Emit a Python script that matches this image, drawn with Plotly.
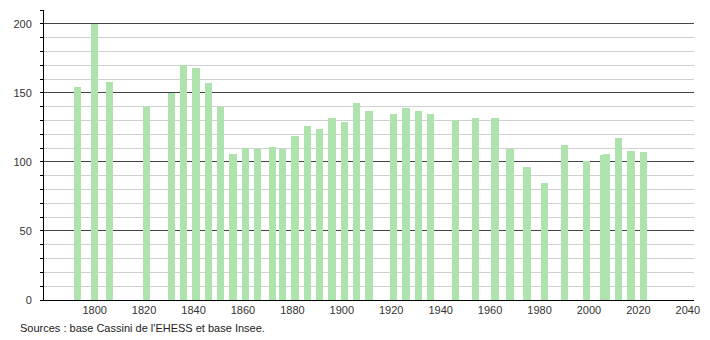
import plotly.graph_objects as go

years = [1793, 1800, 1806, 1821, 1831, 1836, 1841, 1846, 1851, 1856, 1861, 1866,
         1872, 1876, 1881, 1886, 1891, 1896, 1901, 1906, 1911, 1921, 1926, 1931,
         1936, 1946, 1954, 1962, 1968, 1975, 1982, 1990, 1999, 2006, 2007, 2012,
         2017, 2022]
population = [154, 200, 158, 140, 150, 170, 168, 157, 140, 106, 110, 109,
              111, 109, 119, 126, 124, 132, 129, 143, 137, 135, 139, 137,
              135, 130, 132, 132, 109, 96, 85, 112, 101, 105, 106, 117,
              108, 107]
x_ticks = [1800, 1820, 1840, 1860, 1880, 1900, 1920, 1940, 1960, 1980, 2000, 2020, 2040]
y_ticks = [0, 50, 100, 150, 200]
source_text = "Sources : base Cassini de l'EHESS et base Insee."

fig = go.Figure()
fig.add_trace(go.Bar(
    x=years, y=population, width=3,
    marker=dict(color="rgb(174,227,174)", line=dict(width=0)),
    hoverinfo="x+y",
))

font = dict(family="Liberation Sans, Arial, sans-serif", size=11, color="#333")

fig.update_layout(
    width=710, height=340,
    margin=dict(l=44, r=10, t=10, b=40),
    paper_bgcolor="white", plot_bgcolor="white",
    showlegend=False, bargap=0,
    font=font,
    xaxis=dict(
        range=[1779.5, 2042.5], tickmode="array", tickvals=x_ticks,
        showgrid=False, zeroline=False, showline=True, linecolor="black",
        linewidth=1, ticks="", tickfont=font,
    ),
    yaxis=dict(
        range=[0, 210], tickmode="array", tickvals=y_ticks,
        showgrid=True, gridcolor="#444", gridwidth=1, zeroline=False,
        showline=True, linecolor="black", linewidth=1,
        ticks="outside", ticklen=3, tickcolor="black", tickfont=font,
        ticklabelstandoff=6,
        minor=dict(dtick=10, tick0=0, showgrid=True, gridcolor="#cfcfcf",
                   gridwidth=1, ticks="outside", ticklen=3, tickcolor="black"),
        layer="below traces",
    ),
)
fig.add_annotation(
    text=source_text, xref="paper", yref="paper",
    x=(18 - 44) / 656, y=-28 / 290, xanchor="left", yanchor="middle",
    showarrow=False, font=dict(family="Liberation Sans, Arial, sans-serif", size=11, color="#222"),
)
fig.write_html("out.html")
